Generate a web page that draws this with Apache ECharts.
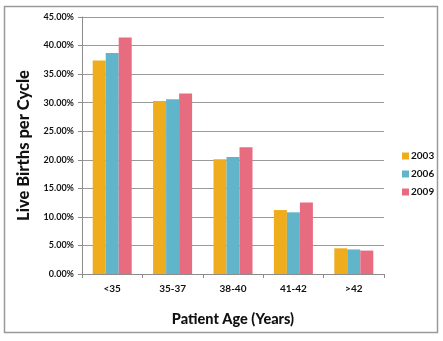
<!DOCTYPE html>
<html><head><meta charset="utf-8">
<script src="https://cdn.jsdelivr.net/npm/echarts@6/dist/echarts.min.js"></script>
<style>html,body{margin:0;padding:0;background:#fff}#c{width:443px;height:341px}</style>
</head><body><div id="c"></div>
<script>
const categories = ['<35', '35-37', '38-40', '41-42', '>42'];
const seriesNames = ['2003', '2006', '2009'];
const v2003 = [37.4, 30.3, 20.1, 11.2, 4.5];
const v2006 = [38.7, 30.6, 20.5, 10.8, 4.3];
const v2009 = [41.4, 31.6, 22.2, 12.5, 4.1];
const colors = ['#EFAC1C', '#60B5CB', '#E76C80'];
const yTicks = [0, 5, 10, 15, 20, 25, 30, 35, 40, 45];
const font = 'Lato, "Open Sans", sans-serif';

const chart = echarts.init(document.getElementById('c'), null, {renderer: 'canvas'});
const values = [v2003, v2006, v2009];
chart.setOption({
  animation: false,
  textStyle: {fontFamily: font},
  graphic: [{type: 'rect', shape: {x: 4.5, y: 6.5, width: 433, height: 326}, style: {fill: 'none', stroke: '#9a9a9a', lineWidth: 1.5}, silent: true}],
  grid: {left: 82, right: 59, top: 17, bottom: 67},
  legend: {
    orient: 'vertical', left: 397, top: 146, itemWidth: 7, itemHeight: 7, itemGap: 8,
    icon: 'rect',
    textStyle: {fontFamily: font, fontSize: 10, fontWeight: 'bold', color: '#111', padding: [0, 0, 0, -3]},
    data: seriesNames
  },
  xAxis: {
    type: 'category', data: categories,
    axisLine: {lineStyle: {color: '#8c8c8c', width: 1}},
    axisTick: {show: true, length: 4, lineStyle: {color: '#8c8c8c'}},
    axisLabel: {fontFamily: font, fontSize: 10, fontWeight: 'bold', color: '#111', margin: 10},
    name: 'Patient Age (Years)', nameLocation: 'middle', nameGap: 38,
    nameTextStyle: {fontFamily: font, fontSize: 14.5, fontWeight: 900, color: '#111'}
  },
  yAxis: {
    type: 'value', min: 0, max: 45, interval: 5,
    axisLine: {show: true, lineStyle: {color: '#8c8c8c'}},
    axisTick: {show: true, length: 4, lineStyle: {color: '#8c8c8c'}},
    splitLine: {lineStyle: {color: '#9a9a9a', width: 1}},
    axisLabel: {fontFamily: font, fontSize: 9, fontWeight: 'bold', color: '#111', margin: 8,
      formatter: v => yTicks.includes(v) ? v.toFixed(2) + '%' : ''},
    name: 'Live Births per Cycle', nameLocation: 'middle', nameGap: 50,
    nameTextStyle: {fontFamily: font, fontSize: 16.5, fontWeight: 900, color: '#111'}
  },
  series: seriesNames.map((n, i) => ({
    name: n, type: 'bar', data: values[i], barWidth: 13, barGap: '0%',
    itemStyle: {color: colors[i]}
  }))
});
</script></body></html>
